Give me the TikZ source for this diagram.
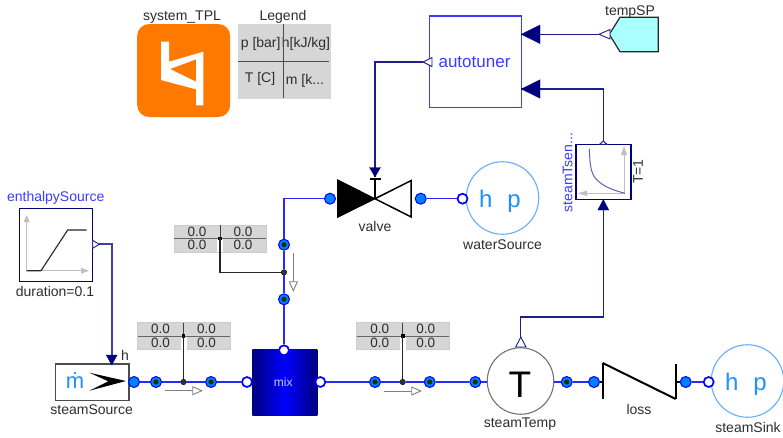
\documentclass[tikz,border=0pt]{standalone}
\usepackage{fontspec}
\setmainfont{Liberation Sans}
\usetikzlibrary{shapes.geometric}
\definecolor{navy}{RGB}{0,0,127}
\definecolor{ctlline}{RGB}{30,30,140}
\definecolor{fluid}{RGB}{40,40,255}
\definecolor{portblue}{RGB}{0,127,255}
\definecolor{nameblue}{RGB}{60,60,255}
\definecolor{skyblue}{RGB}{30,144,255}
\definecolor{ringblue}{RGB}{100,175,255}
\definecolor{panel}{RGB}{214,214,214}
\definecolor{txt}{RGB}{45,45,45}
\definecolor{iconorange}{RGB}{255,120,0}
\definecolor{spfill}{RGB}{170,255,255}
\tikzset{
  x=1pt,y=-1pt,
  lbl/.style={inner sep=0pt,text=txt,font=\fontsize{14}{14}\selectfont},
  namelbl/.style={inner sep=0pt,text=nameblue,font=\fontsize{14}{14}\selectfont},
  port/.style={circle,inner sep=0pt,minimum size=11pt,fill=portblue,draw=blue,line width=1pt},
  portdot/.style={port,path picture={\fill[black!80!green] (path picture bounding box.center) circle (2.6pt);}},
  portopen/.style={circle,inner sep=0pt,minimum size=10pt,fill=white,draw=blue,line width=1.7pt},
  junction/.style={circle,inner sep=0pt,minimum size=5.5pt,fill=black!80,draw=black},
  flow/.style={draw=gray,line width=.9pt},
  fluidline/.style={draw=fluid,line width=1.5pt},
  ctl/.style={draw=ctlline,line width=1.1pt},
  sensorline/.style={draw=black!85,line width=1.2pt},
  blockbox/.style={draw=navy,line width=1.2pt,fill=white,inner sep=0pt},
  readout/.style={fill=panel,draw=black!20,line width=.5pt,inner sep=0pt,minimum width=92.5pt,minimum height=27pt},
  val/.style={inner sep=0pt,text=txt,font=\fontsize{13.5}{13.5}\selectfont},
  medium/.style={circle,draw=ringblue,line width=1.1pt,fill=white,inner sep=0pt,minimum size=72.5pt},
  hp/.style={inner sep=0pt,anchor=base,text=skyblue,font=\fontsize{24}{24}\selectfont},
  arrowfill/.style={fill=navy,draw=navy,line width=.3pt},
  outtri/.style={fill=white,draw=ctlline,line width=.9pt},
  axis/.style={draw=black!25,line width=1pt},
  axistip/.style={fill=black!25},
  mech/.style={draw=black,line width=2pt,line cap=butt},
}
\newcommand{\readoutnode}[3]{% name, x, y
  \node[readout] (#1) at (#2,#3) {};
  \fill[white] (#2-3,#3) rectangle (#2+3,#3+13.6);
  \draw[black!60,line width=.9pt] (#2-46,#3) -- (#2+46,#3);
  \draw[black!75,line width=.9pt] (#2,#3-13.5) -- (#2,#3);
  \fill[black] (#2-1.8,#3-1.8) rectangle (#2+1.8,#3+1.8);
  \node[val] (#1a) at (#2-23,#3-6.7) {0.0};
  \node[val] (#1b) at (#2+23,#3-6.7) {0.0};
  \node[val] (#1c) at (#2-23,#3+6.7) {0.0};
  \node[val] (#1d) at (#2+23,#3+6.7) {0.0};
}
\begin{document}
\begin{tikzpicture}
\useasboundingbox (0,0) rectangle (783,437);
\fill[white] (0,0) rectangle (783,437);

% icon and legend
\node[lbl] (sysname) at (182,17) {system\_TPL};
\node[fill=iconorange,rounded corners=12pt,inner sep=0pt,minimum width=93pt,minimum height=93pt] (sysicon) at (183.7,70.5) {};
\fill[white,even odd rule] (161,41.7) -- (169,41.7) -- (169,61.7) -- (203.3,51.7) -- (203.3,105.3) -- (196,105.3) -- (196,89.3) -- (161,80) -- cycle
  (170,69) -- (196,59.3) -- (196,81.7) -- cycle;
\node[lbl] (legname) at (283,17) {Legend};
\node[fill=panel,inner sep=0pt,minimum width=93pt,minimum height=75pt] (legend) at (284.2,61.5) {};
\node[lbl] (lega) at (260.7,44) {p [bar]};
\node[lbl] (legb) at (306,44) {h[kJ/kg]};
\node[lbl] (legc) at (260,78.7) {T [C]};
\node[lbl] (legd) at (305,80.5) {m [k...};
\draw[black!70,line width=1pt] (283.7,24) -- (283.7,98) (238,61.7) -- (329,61.7);

% autotuner
\node[draw=nameblue,line width=1.4pt,fill=white,minimum width=91.5pt,minimum height=91.5pt,inner sep=0pt] (tuner) at (475.5,61.8) {};
\node[inner sep=0pt,text=nameblue,font=\fontsize{17}{17}\selectfont] (tunerlbl) at (474.5,62) {autotuner};
\coordinate (tunerout) at (423,62);
\coordinate (tunerin1) at (521.3,34.3);
\coordinate (tunerin2) at (521.3,89);

% tempSP
\node[lbl] (splbl) at (630,12) {tempSP};
\coordinate (spout) at (599,34.3);
\draw[fill=spfill,draw=black!85,line width=1.2pt] (658.3,17.3) -- (658.3,51.7) -- (620,51.7) -- (609.3,34.3) -- (620,17.3) -- cycle;

% steamTsensor block
\node[blockbox,minimum width=55pt,minimum height=55pt] (tsen) at (603.5,171.7) {};
\node[namelbl,rotate=90] (tsenlbl) at (567.5,172.5) {steamTsen...};
\node[lbl,rotate=90] (tsenT) at (638,171.7) {T=1};
\draw[axis] (624,150) -- (624,193.3) -- (583,193.3);
\fill[axistip] (624,146) -- (621,155) -- (627,155) -- cycle;
\fill[axistip] (578,193.3) -- (587,190.5) -- (587,196) -- cycle;
\draw[draw=ctlline!70!white,line width=1pt] (589.3,149) .. controls (590,166.7) and (591,174) .. (597,180) .. controls (603,186) and (612,190) .. (625,193.3);

% enthalpySource
\node[namelbl] (entlbl) at (55.7,197.7) {enthalpySource};
\node[blockbox,minimum width=73.4pt,minimum height=73pt] (ent) at (56,244.8) {};
\node[lbl] (durlbl) at (55,291.7) {duration=0.1};
\draw[axis] (26.7,220) -- (26.7,270.7) -- (82,270.7);
\fill[axistip] (26.7,215) -- (23.7,222) -- (29.7,222) -- cycle;
\fill[axistip] (89,270.7) -- (81,267.7) -- (81,273.7) -- cycle;
\draw[black!85,line width=1.1pt] (26.7,270.7) -- (41,270.7) -- (67.7,230) -- (86.7,230);

% steamSource
\node[draw=black!70,line width=1.2pt,fill=white,inner sep=0pt,minimum width=73.3pt,minimum height=36.3pt] (src) at (92.3,382.2) {};
\node[inner sep=0pt,text=skyblue,font=\fontsize{22}{22}\selectfont] (srcm) at (75,381) {ṁ};
\fill[black] (89.3,372.7) -- (126,381) -- (89.3,390.7) -- (108.3,381.3) -- cycle;
\node[lbl] (srch) at (125,355.7) {h};
\node[lbl] (srclbl) at (91.7,409.3) {steamSource};

% mix
\node[left color=navy,right color=navy,middle color=blue,inner sep=0pt,minimum width=65pt,minimum height=65.3pt] (mix) at (284.8,382.6) {};
\node[inner sep=0pt,text=white!80!blue,font=\fontsize{12}{12}\selectfont] (mixlbl) at (283.3,382) {mix};

% valve
\draw[black,fill=black,line width=1pt] (337.7,180) -- (375,198.7) -- (337.7,217.3) -- cycle;
\draw[black,fill=white,line width=1.5pt,line join=miter] (411.2,180.5) -- (375,198.7) -- (411.2,217) -- cycle;
\coordinate (valvetop) at (375,179);
\coordinate (valvemid) at (375,198.7);
\node[lbl] (valvelbl) at (375,226.5) {valve};
\draw[black,line width=1.5pt] (valvetop) -- (valvemid);
\draw[black,line width=2pt] (369.5,179) -- (380.5,179);

% mediums
\node[medium] (water) at (502.5,198) {};
\node[hp] (waterh) at (485.7,207.3) {h};
\node[hp] (waterp) at (514,207.3) {p};
\node[lbl] (waterlbl) at (502.5,245) {waterSource};
\node[medium] (sink) at (747.5,381) {};
\node[hp] (sinkh) at (731.7,390) {h};
\node[hp] (sinkp) at (760,390) {p};
\node[lbl] (sinklbl) at (748,427) {steamSink};

% temperature sensor
\node[circle,draw=black!55,line width=1.1pt,fill=white,inner sep=0pt,minimum size=66.5pt] (temp) at (520.5,381) {};
\node[inner sep=0pt,text=black,font=\fontsize{37}{37}\selectfont] (templtr) at (520,385) {T};
\node[lbl] (templbl) at (520,424) {steamTemp};

% loss
\coordinate (lossL) at (602.7,382);
\coordinate (lossR) at (675.7,382);
\draw[mech] (602.7,362.7) -- (602.7,399.3);
\draw[mech] (675.7,363.7) -- (675.7,399.3);
\draw[mech] (602.7,363) -- (675.7,399);
\node[lbl] (losslbl) at (639,409) {loss};

% readouts
\readoutnode{ra}{183.5}{336}
\readoutnode{rb}{402.7}{336}
\readoutnode{rc}{220}{238.3}

% ports
\node[port] (p1) at (134,382) {};
\node[portdot] (p2) at (156,382) {};
\node[portdot] (p3) at (211,382) {};
\node[portopen] (mixL) at (247,382) {};
\node[portopen] (mixR) at (320.3,382) {};
\node[portopen] (mixT) at (284,350.3) {};
\node[portdot] (p4) at (375,382) {};
\node[portdot] (p5) at (429.7,382) {};
\node[portdot] (p6) at (475.3,382) {};
\node[portdot] (p7) at (566.7,382) {};
\node[port] (p8) at (594,382) {};
\node[port] (p9) at (685.7,382) {};
\node[portopen] (sinkP) at (708.7,382) {};
\node[portdot] (p10) at (284,299.3) {};
\node[portdot] (p11) at (284,244.7) {};
\node[port] (valveL) at (330,198.7) {};
\node[port] (valveR) at (420.7,198.7) {};
\node[portopen] (waterP) at (462.5,198.7) {};
\node[junction] (ja) at (183.5,382) {};
\node[junction] (jb) at (402.7,382) {};
\node[junction] (jc) at (284,272.3) {};

% fluid connectors
\draw[fluidline] (p1) -- (p2);
\draw[fluidline] (p2) -- (ja);
\draw[fluidline] (ja) -- (p3);
\draw[fluidline] (p3) -- (mixL);
\draw[fluidline] (mixR) -- (p4);
\draw[fluidline] (p4) -- (jb);
\draw[fluidline] (jb) -- (p5);
\draw[fluidline] (p5) -- (p6);
\draw[fluidline] (p6) -- (temp.west |- p6);
\draw[fluidline] (temp.east |- p7) -- (p7);
\draw[fluidline] (p7) -- (p8);
\draw[fluidline] (p9) -- (sinkP);
\draw[fluidline] (mixT) -- (p10);
\draw[fluidline] (p10) -- (jc);
\draw[fluidline] (jc) -- (p11);
\draw[fluidline] (p11) |- (valveL);
\draw[fluidline] (valveR) -- (waterP);
\draw[black,line width=1.5pt] (p8) -- (lossL);
\draw[black,line width=1.5pt] (lossR) -- (p9);

% sensor connectors
\draw[sensorline] (ja) -- (ra.center);
\draw[sensorline] (jb) -- (rb.center);
\draw[sensorline] (jc) -| (rc.center);

% flow arrows
\coordinate (fa1) at (165,390.7); \coordinate (fa2) at (192.7,390.7);
\coordinate (fb1) at (384,391); \coordinate (fb2) at (411.7,391);
\coordinate (fc1) at (293.3,253.3); \coordinate (fc2) at (293.3,281.7);
\draw[flow] (fa1) -- (fa2);
\draw[flow,fill=white] (192.7,386.7) -- (201.7,390.7) -- (192.7,394.7) -- cycle;
\draw[flow] (fb1) -- (fb2);
\draw[flow,fill=white] (411.7,387) -- (420.7,391) -- (411.7,395) -- cycle;
\draw[flow] (fc1) -- (fc2);
\draw[flow,fill=white] (289.3,281.7) -- (293.3,290.7) -- (297.3,281.7) -- cycle;

% control connectors
\coordinate (tuneroutbase) at (432,62);
\coordinate (valvearrow) at (375,177);
\draw[ctl] (tunerout) -| (valvearrow);
\draw[arrowfill] (369.5,167.5) -- (380.5,167.5) -- (375,177) -- cycle;
\draw[outtri] (tuneroutbase) ++(0,-4.5) -- (tunerout) -- (432,66.5) -- cycle;

\draw[ctl] (spout) -- (tunerin1);
\draw[arrowfill] (540,25) -- (521.3,34.3) -- (540,43.6) -- cycle;
\draw[outtri] (610,29.5) -- (spout) -- (610,39) -- cycle;

\coordinate (tsenout) at (603.3,141);
\draw[ctl] (tsenout) |- (tunerin2);
\draw[arrowfill] (540,79.7) -- (521.3,89) -- (540,98.3) -- cycle;
\draw[outtri] (599.5,144.3) -- (tsenout) -- (607,144.3) -- cycle;

\coordinate (tempout) at (520.8,337);
\coordinate (tseninbase) at (603.3,199.5);
\coordinate (tempbend) at (520.8,317);
\draw[ctl] (tempout) -- (tempbend) -| (tseninbase);
\draw[arrowfill] (597.8,210) -- (603.3,199.5) -- (608.8,210) -- cycle;
\draw[outtri] (515.7,347) -- (tempout) -- (526,347) -- cycle;

\coordinate (entout) at (99.3,244.3);
\coordinate (srcin) at (111.7,365);
\draw[draw=ctlline!85!white,line width=2pt] (entout) -| (srcin);
\draw[arrowfill] (106.2,355) -- (117.2,355) -- (111.7,365) -- cycle;
\draw[outtri] (92.7,240.3) -- (entout) -- (92.7,248.3) -- cycle;
\end{tikzpicture}
\end{document}
